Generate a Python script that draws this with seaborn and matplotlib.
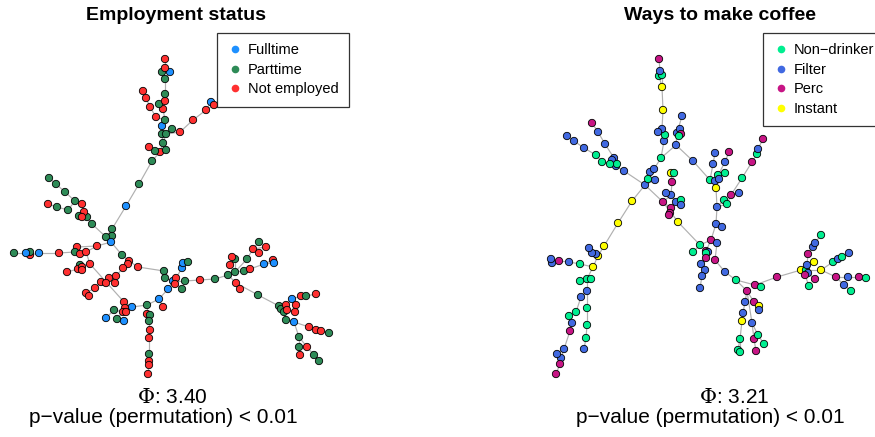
import matplotlib
matplotlib.use("Agg")
import matplotlib.pyplot as plt
from matplotlib.lines import Line2D
from matplotlib.collections import LineCollection
import seaborn as sns
import pandas as pd

sns.set_style("white")
plt.rcParams['font.family'] = ['Liberation Sans', 'DejaVu Sans']
plt.rcParams['mathtext.fontset'] = 'dejavuserif'
plt.rcParams['text.color'] = 'black'

# ---- Left panel: employment status (node layout, group, parent in tree) ----
emp_x = [126, 139, 152, 160, 155, 149, 166, 163, 162, 166, 180, 193, 206, 211, 214, 172,
         162, 165, 156, 150, 146, 143, 163, 159, 165, 165, 165, 162, 170, 165, 165,
         112, 112, 106, 111, 92, 87, 84, 79, 82, 82, 75, 65, 56, 49, 68, 57, 48,
         97, 77, 75, 59, 39, 30, 30, 26, 14, 80, 86, 90, 80, 78, 82, 82, 67,
         122, 129, 128, 123, 116, 109, 115, 101, 106, 95, 86, 89, 138, 164, 165,
         173, 176, 175, 182, 183, 188, 185, 182, 168, 159, 163, 147, 132, 124,
         125, 123, 126, 114, 106, 117, 124, 147, 150, 149, 150, 149, 149, 149, 149, 148,
         200, 215, 228, 235, 244, 250, 264, 273, 274, 247, 253, 259, 266, 259, 235, 232, 230,
         236, 240, 258, 279, 281, 284, 286, 287, 292, 296, 295, 301, 306, 316,
         286, 294, 309, 316, 321, 329, 299, 299, 300, 307, 314, 319]
emp_y = [206, 184, 161, 152, 151, 147, 150, 143, 134, 134, 132, 120, 110, 102, 105, 129,
         126, 120, 117, 107, 98, 91, 109, 104, 101, 94, 79, 72, 72, 68, 59,
         229, 236, 237, 242, 224, 217, 212, 216, 217, 204, 201, 192, 184, 178, 210, 207, 204,
         246, 247, 252, 253, 253, 255, 252, 253, 253, 254, 252, 264, 265, 269, 267, 270, 272,
         255, 261, 264, 268, 276, 278, 283, 282, 283, 288, 293, 296, 267, 271, 278,
         281, 278, 284, 268, 263, 262, 281, 289, 289, 299, 307, 305, 307, 302,
         308, 312, 312, 310, 318, 319, 321, 314, 315, 321, 330, 338, 354, 361, 365, 374,
         280, 279, 275, 272, 271, 269, 264, 260, 263, 259, 249, 253, 247, 242, 259, 257, 265,
         283, 289, 295, 306, 309, 312, 305, 310, 299, 305, 312, 296, 296, 294,
         320, 322, 327, 330, 331, 333, 337, 347, 355, 347, 355, 361]
emp_group = list("FPPNPNPPPPNNNFNP"
                 "FPNNNNNPNPPPFNN"
                 "PPPFPPNPNNPPPPPPN"
                 "NNPNFNPFPNNNPNNNN"
                 "PNNNNNNNNNNNNPP"
                 "FNNFFPPPFFNPFN"
                 "NNNPFPFNPPNNPNNN"
                 "NPPPPNFNFPNNNPPNN"
                 "NNPPPPNNFNNNPN"
                 "PFNNNPPPNNPP")
emp_parent = [-1, 0, 1, 2, 3, 4, 3, 3, 7, 7, 9, 10, 11, 12, 12, 9,
              8, 16, 17, 18, 19, 20, 17, 22, 22, 24, 25, 26, 26, 27, 29,
              0, 31, 31, 32, 33, 35, 36, 37, 37, 37, 40, 41, 42, 43, 41, 45, 46,
              34, 48, 49, 50, 51, 52, 53, 54, 55, 49, 48, 58, 59, 60, 60, 60, 61,
              34, 65, 66, 67, 68, 69, 69, 70, 72, 72, 74, 75, 66, 77, 78,
              79, 80, 80, 81, 83, 84, 80, 80, 80, 88, 89, 89, 91, 59,
              93, 94, 94, 95, 97, 95, 99, 91, 101, 102, 103, 104, 105, 106, 107, 108,
              86, 110, 111, 112, 113, 114, 115, 116, 116, 113, 119, 120, 120, 120, 113, 124, 124,
              112, 127, 127, 129, 130, 131, 132, 132, 133, 135, 134, 135, 138, 139,
              132, 141, 142, 143, 144, 145, 142, 147, 148, 147, 150, 151]
emp_extra = [(92, 93)]
emp_labels = {"F": "Fulltime", "P": "Parttime", "N": "Not employed"}
emp_colors = {"Fulltime": "#1E90FF", "Parttime": "#2E8B57", "Not employed": "#FF3030"}
emp_phi = "3.40"

# ---- Right panel: ways to make coffee ----
cof_x = [645, 624, 616, 614, 612, 617, 610, 602, 596, 584, 574, 567, 605, 598, 592,
         650, 654, 655, 648, 661, 664, 665, 662, 658, 663, 662, 659, 662, 660, 659,
         676, 677, 680, 681, 679, 682, 693, 710, 715, 718, 719, 725, 713, 715, 725, 729,
         716, 717, 724, 727, 731, 739, 742, 752, 757, 758, 763,
         716, 722, 711, 717, 706, 708, 706, 706, 701, 705, 702, 700, 700, 693,
         715, 725, 736, 747, 755, 761, 777, 801, 806, 807, 808, 805, 814, 815, 809,
         808, 813, 815, 821, 821, 833, 838, 842, 849, 836, 848, 859, 866, 844, 851,
         745, 743, 742, 740, 738, 740, 754, 759, 759, 752, 754, 756, 758, 764,
         663, 671, 670, 669, 678, 671, 666, 676, 681, 681, 672, 671, 674,
         632, 618, 604, 598, 596, 592, 589, 593, 580, 569, 559, 552, 551,
         587, 591, 580, 587, 581, 576, 569, 572, 570, 564, 561, 557, 560, 556,
         587, 587, 586, 584]
cof_y = [185, 171, 166, 158, 160, 164, 164, 162, 155, 148, 141, 136, 144, 132, 123,
         172, 169, 180, 179, 158, 141, 135, 129, 132, 110, 87, 76, 75, 71, 59,
         145, 133, 129, 134, 136, 116, 161, 180, 181, 175, 179, 173, 164, 153, 162, 152,
         188, 207, 200, 204, 195, 193, 178, 162, 154, 149, 139,
         224, 227, 240, 243, 251, 252, 253, 258, 264, 270, 276, 288, 245, 252,
         260, 272, 280, 291, 285, 287, 277, 270, 270, 265, 273, 275, 262, 279, 286,
         254, 247, 243, 235, 270, 262, 259, 257, 253, 277, 277, 277, 278, 285, 291,
         302, 313, 321, 339, 350, 352, 302, 306, 310, 323, 339, 351, 335, 344,
         202, 208, 213, 215, 222, 195, 193, 202, 200, 205, 182, 173, 173,
         201, 223, 246, 256, 254, 253, 248, 267, 264, 262, 261, 263, 259,
         279, 279, 281, 291, 297, 312, 316, 323, 331, 349, 358, 354, 364, 374,
         308, 325, 338, 349]
cof_group = list("FFFFFNNNNFFFFFP"
                 "FFFNNFNFFIINNFP"
                 "FFFPNFFNFNFNFFFP"
                 "IFNNPFNPNFP"
                 "FFPFPFNPFFFFNN"
                 "PFNPPNPINFFPIPN"
                 "PFFNINFNFPFPNFN"
                 "FFINNNPIFFPPNN"
                 "PPPPIFFFNFPIN"
                 "IIIIFFFINFPFF"
                 "NNNFFNNFPFFFPP"
                 "NNNF")
cof_parent = [-1, 0, 1, 2, 2, 2, 4, 6, 7, 8, 9, 10, 3, 12, 13,
              0, 15, 0, 0, 16, 19, 20, 20, 22, 22, 24, 25, 25, 26, 28,
              19, 30, 31, 31, 31, 31, 30, 36, 37, 38, 38, 39, 37, 42, 38, 44,
              38, 46, 47, 47, 49, 50, 50, 52, 53, 54, 55,
              47, 57, 57, 59, 59, 61, 61, 63, 64, 65, 66, 67, 59, 69,
              60, 71, 72, 73, 73, 75, 75, 77, 78, 79, 79, 81, 80, 81, 82,
              80, 86, 87, 88, 79, 90, 91, 92, 93, 90, 95, 96, 97, 95, 99,
              74, 101, 102, 103, 104, 104, 74, 107, 107, 74, 110, 111, 110, 113,
              0, 115, 116, 116, 115, 115, 120, 120, 122, 122, 120, 125, 125,
              0, 128, 129, 130, 131, 132, 133, 131, 135, 136, 137, 138, 139,
              135, 141, 141, 141, 144, 145, 146, 147, 148, 149, 150, 150, 151, 153,
              144, 155, 156, 157]
cof_extra = [(119, 69)]
cof_labels = {"N": "Non\u2212drinker", "F": "Filter", "P": "Perc", "I": "Instant"}
cof_colors = {"Non\u2212drinker": "#00EE90", "Filter": "#4169E1",
              "Perc": "#C71585", "Instant": "#FFFF00"}
cof_phi = "3.21"


def draw_tree(ax, xs, ys, groups, parents, extra, labels, colors):
    df = pd.DataFrame({"x": xs, "y": ys, "group": [labels[g] for g in groups]})
    pairs = [(i, p) for i, p in enumerate(parents) if p >= 0] + list(extra)
    segs = [[(xs[a], ys[a]), (xs[b], ys[b])] for a, b in pairs]
    ax.add_collection(LineCollection(segs, colors="#B0B0B0", linewidths=0.85, zorder=1))
    sns.scatterplot(data=df, x="x", y="y", hue="group", palette=colors, s=28,
                    edgecolor="black", linewidth=0.6, legend=False, ax=ax, zorder=2)
    ax.set_axis_off()


def add_legend(ax, colors, anchor):
    handles = [Line2D([], [], marker="o", linestyle="", color=c, markersize=5.5,
                      markeredgewidth=0, label=k) for k, c in colors.items()]
    leg = ax.legend(handles=handles, loc="upper left", bbox_to_anchor=anchor,
                    bbox_transform=ax.figure.transFigure, frameon=True, fancybox=False,
                    fontsize=10.5, handletextpad=0.4, handlelength=1.0,
                    borderpad=0.7, labelspacing=0.38, borderaxespad=0)
    leg.get_frame().set_edgecolor("black")
    leg.get_frame().set_linewidth(0.9)
    for t in leg.get_texts():
        t.set_color("black")


W, H = 875, 437
fig = plt.figure(figsize=(W / 100, H / 100), dpi=100)
ax_l = fig.add_axes([0, 0, 0.5, 1])
ax_r = fig.add_axes([0.5, 0, 0.5, 1])

draw_tree(ax_l, emp_x, emp_y, emp_group, emp_parent, emp_extra, emp_labels, emp_colors)
draw_tree(ax_r, cof_x, cof_y, cof_group, cof_parent, cof_extra, cof_labels, cof_colors)
ax_l.set_xlim(0, W / 2)
ax_r.set_xlim(W / 2, W)
for ax in (ax_l, ax_r):
    ax.set_ylim(H, 0)

add_legend(ax_l, emp_colors, (217 / W, 1 - 33 / H))
add_legend(ax_r, cof_colors, (763 / W, 1 - 33 / H))

fig.text(176 / W, 1 - 16 / H, "Employment status", ha="center", va="center",
         fontsize=14, fontweight="bold", color="black")
fig.text(720 / W, 1 - 16 / H, "Ways to make coffee", ha="center", va="center",
         fontsize=14, fontweight="bold", color="black")
# annotation rows: (phi centre x, p-value centre x, phi value)
for phi_x, p_x, phi in [(172, 163, emp_phi), (734, 710, cof_phi)]:
    fig.text(phi_x / W, 1 - 403 / H, r"$\Phi$: " + phi, ha="center", va="baseline",
             fontsize=15, color="black")
    fig.text(p_x / W, 1 - 423 / H, "p\u2212value (permutation) < 0.01",
             ha="center", va="baseline", fontsize=15, color="black")

fig.savefig("out.png", dpi=100)
